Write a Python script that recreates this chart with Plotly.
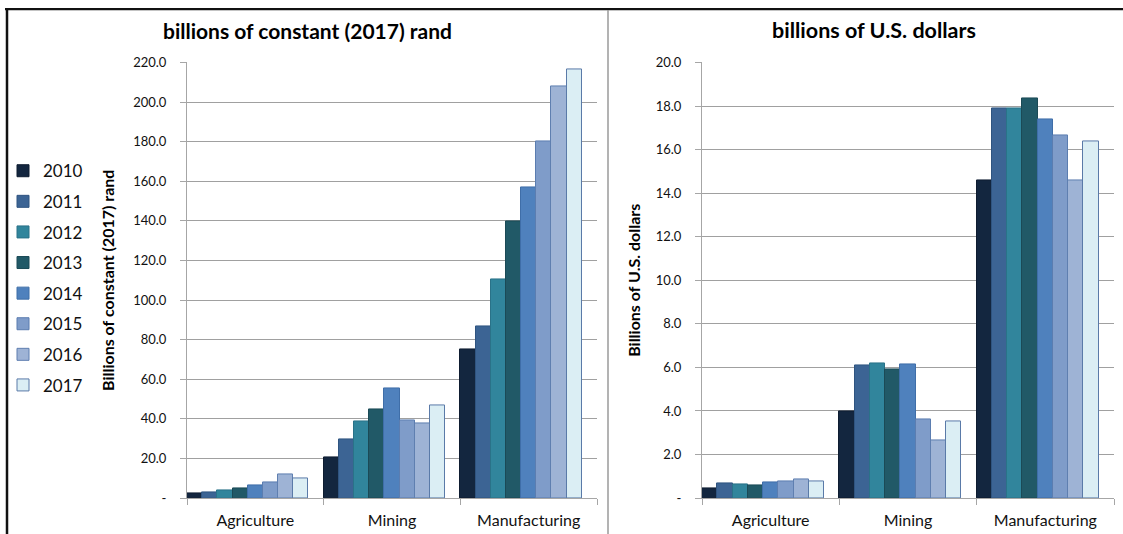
import plotly.graph_objects as go

categories = ["Agriculture", "Mining", "Manufacturing"]
years = ["2010", "2011", "2012", "2013", "2014", "2015", "2016", "2017"]

rand_2010 = [2.1, 20.5, 75.3]
rand_2011 = [3.1, 29.7, 86.8]
rand_2012 = [3.9, 38.5, 110.3]
rand_2013 = [4.8, 45.0, 139.6]
rand_2014 = [6.4, 55.6, 156.9]
rand_2015 = [7.9, 39.3, 180.2]
rand_2016 = [12.0, 37.6, 207.8]
rand_2017 = [9.9, 47.0, 216.6]

usd_2010 = [0.43, 3.98, 14.60]
usd_2011 = [0.66, 6.08, 17.88]
usd_2012 = [0.63, 6.20, 17.91]
usd_2013 = [0.60, 5.89, 18.37]
usd_2014 = [0.71, 6.14, 17.40]
usd_2015 = [0.75, 3.63, 16.66]
usd_2016 = [0.86, 2.63, 14.56]
usd_2017 = [0.77, 3.52, 16.39]

rand_series = [rand_2010, rand_2011, rand_2012, rand_2013, rand_2014, rand_2015, rand_2016, rand_2017]
usd_series = [usd_2010, usd_2011, usd_2012, usd_2013, usd_2014, usd_2015, usd_2016, usd_2017]

left_tickvals = [0, 20, 40, 60, 80, 100, 120, 140, 160, 180, 200, 220]
left_ticktext = ["-", "20.0", "40.0", "60.0", "80.0", "100.0", "120.0", "140.0", "160.0", "180.0", "200.0", "220.0"]
right_tickvals = [0, 2, 4, 6, 8, 10, 12, 14, 16, 18, 20]
right_ticktext = ["-", "2.0", "4.0", "6.0", "8.0", "10.0", "12.0", "14.0", "16.0", "18.0", "20.0"]

fills = ["#13263F", "#3C6494", "#31859C", "#215967", "#4F81BD", "#7F9CC9", "#9EB3D5", "#DBEEF4"]
outlines = ["#0E1C30", "#2F5480", "#2A7288", "#1B4A56", "#3F6EA8", "#5B7DB0", "#5F7FB0", "#5A7AA8"]

W, H = 1123, 543
OFF, SCALE = 8.7, 0.968  # observed vertical placement of the figure in the rendering
FONT = "Lato"


def py(sy):
    """target screen row -> paper y"""
    return 1 - ((sy - OFF) / SCALE) / H


fig = go.Figure()
for i, yr in enumerate(years):
    fig.add_trace(go.Bar(x=categories, y=rand_series[i], name=yr, legendgroup=yr,
                         marker=dict(color=fills[i], line=dict(color=outlines[i], width=1)),
                         xaxis="x", yaxis="y"))
fig.add_trace(go.Bar(x=categories, y=[None, None, None], showlegend=False, hoverinfo="skip",
                     xaxis="x", yaxis="y"))
for i, yr in enumerate(years):
    fig.add_trace(go.Bar(x=categories, y=usd_series[i], name=yr, legendgroup=yr, showlegend=False,
                         marker=dict(color=fills[i], line=dict(color=outlines[i], width=1)),
                         xaxis="x2", yaxis="y2"))
fig.add_trace(go.Bar(x=categories, y=[None, None, None], showlegend=False, hoverinfo="skip",
                     xaxis="x2", yaxis="y2"))

ybot = py(497.5)
ytop = py(63)
axis_gray = "#A6A6A6"
grid_gray = "#A0A0A0"

common_x = dict(type="category", showgrid=False, showline=True, linecolor=axis_gray, linewidth=1,
                ticks="outside", tickson="boundaries", ticklen=6, tickcolor=axis_gray,
                tickfont=dict(family=FONT, size=16, color="#111"), fixedrange=True,
                ticklabelstandoff=8)
common_y = dict(showgrid=True, gridcolor=grid_gray, gridwidth=1, showline=True, linecolor=axis_gray,
                linewidth=1, ticks="outside", ticklen=6, tickcolor=axis_gray, zeroline=False,
                tickfont=dict(family=FONT, size=13, color="#111"), ticklabelstandoff=11)

fig.update_layout(
    autosize=False,
    width=W, height=H, margin=dict(l=0, r=0, t=0, b=0),
    paper_bgcolor="white", plot_bgcolor="white",
    barmode="group", bargap=0, bargroupgap=0,
    xaxis=dict(domain=[187 / W, 597 / W], anchor="y", **common_x),
    yaxis=dict(domain=[ybot, ytop], anchor="x", range=[0, 220], tickvals=left_tickvals,
               ticktext=left_ticktext,
               title=dict(text="<b>Billions of constant (2017) rand</b>", standoff=14,
                          font=dict(family=FONT, size=16, color="#000")), **common_y),
    xaxis2=dict(domain=[702 / W, 1114 / W], anchor="y2", **common_x),
    yaxis2=dict(domain=[ybot, ytop], anchor="x2", range=[0, 20], tickvals=right_tickvals,
                ticktext=right_ticktext,
                title=dict(text="<b>Billions of U.S. dollars</b>", standoff=11,
                           font=dict(family=FONT, size=16, color="#000")), **common_y),
    legend=dict(x=3 / W, y=py(153.5), xanchor="left", yanchor="top",
                font=dict(family=FONT, size=17, color="#111"), tracegroupgap=5.5,
                itemwidth=30, bgcolor="rgba(0,0,0,0)"),
    showlegend=True,
    annotations=[
        dict(text="<b>billions of constant (2017) rand</b>", x=307 / W, y=py(31),
             xref="paper", yref="paper", showarrow=False, xanchor="center", yanchor="middle",
             font=dict(family=FONT, size=21, color="#000")),
        dict(text="<b>billions of U.S. dollars</b>", x=874 / W, y=py(31),
             xref="paper", yref="paper", showarrow=False, xanchor="center", yanchor="middle",
             font=dict(family=FONT, size=21.5, color="#000")),
    ],
    shapes=[
        dict(type="line", xref="paper", yref="paper", x0=5 / W, x1=1, y0=1 - 1.2 / H, y1=1 - 1.2 / H,
             line=dict(color="#111", width=2.4)),
        dict(type="line", xref="paper", yref="paper", x0=7 / W, x1=7 / W, y0=0, y1=1 - 1 / H,
             line=dict(color="#111", width=2.5)),
        dict(type="line", xref="paper", yref="paper", x0=608 / W, x1=608 / W, y0=0, y1=1 - 2 / H,
             line=dict(color="#9A9A9A", width=1.5)),
    ],
)

fig.write_html("out.html")
